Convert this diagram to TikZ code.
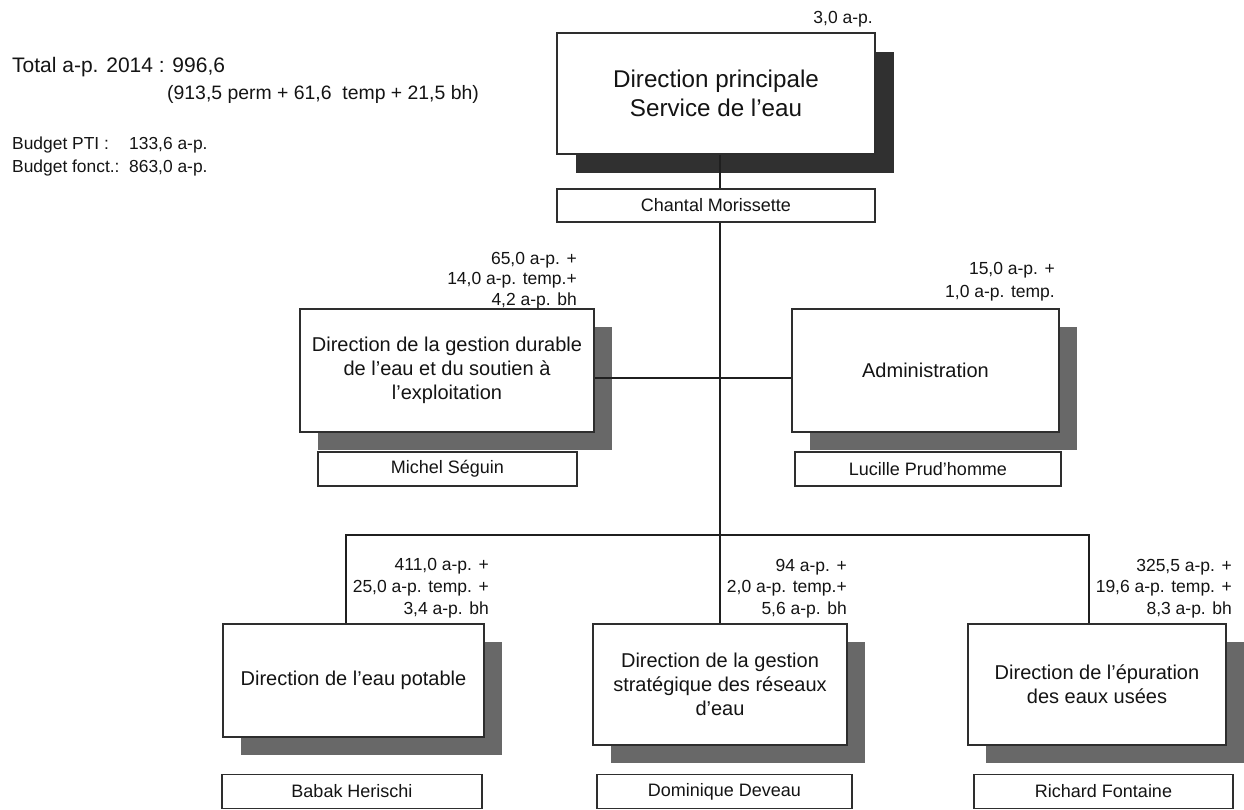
\documentclass[tikz,border=0pt]{standalone}
\usepackage{fontspec}
\setmainfont{Liberation Sans}
\usetikzlibrary{shadows,calc}
\definecolor{txt}{HTML}{141414}
\definecolor{bord}{HTML}{2E2E2E}
\definecolor{shdark}{HTML}{303030}
\definecolor{shmid}{HTML}{686868}
\begin{document}
\begin{tikzpicture}[x=1pt,y=-1pt,
  box/.style={draw=bord, line width=1.3pt, fill=white, align=center, inner sep=0pt,
    text=txt, font=\fontsize{20}{23.8}\selectfont},
  shadowmid/.style={drop shadow={shadow xshift=18pt, shadow yshift=-18pt, fill=shmid, opacity=1}},
  shadowdark/.style={drop shadow={shadow xshift=19pt, shadow yshift=-19pt, fill=shdark, opacity=1}},
  namebox/.style={draw=bord, line width=1.3pt, fill=white, inner sep=0pt, text=txt,
    font=\fontsize{18}{21}\selectfont},
  lbl/.style={align=right, anchor=north east, inner sep=0pt, text=txt},
  info/.style={anchor=base west, inner sep=0pt, text=txt},
  link/.style={draw=black!88, line width=1.3pt}]
\useasboundingbox (0,0) rectangle (1244,810);

% header texts
\node[info, font=\fontsize{21}{25}\selectfont] (total) at (12,72.6) {Total a-p. 2014 : 996,6};
\node[info, font=\fontsize{19.4}{23}\selectfont] (detail) at (167,100) {(913,5 perm + 61,6\ \ temp + 21,5 bh)};
\node[info, font=\fontsize{17.4}{21}\selectfont] (pti) at (12,149.3) {\makebox[117pt][l]{Budget PTI :}133,6 a-p.};
\node[info, font=\fontsize{17.4}{21}\selectfont] (fonct) at (12,172.3) {\makebox[117pt][l]{Budget fonct.:}863,0 a-p.};

% boxes
\node[box, shadowdark, minimum width=318pt, minimum height=121pt,
  font=\fontsize{24.2}{29}\selectfont] (top) at (716,93.5) {Direction principale\\Service de l’eau};
\node[namebox, minimum width=318pt, minimum height=33pt] (chantal) at (716,205.5) {Chantal Morissette};

\node[box, shadowmid, minimum width=294pt, minimum height=123pt] (gest) at (447,370.5)
  {Direction de la gestion durable\\de l’eau et du soutien à\\l’exploitation};
\node[namebox, minimum width=259pt, minimum height=34pt] (michel) at (447.5,469) {Michel Séguin};

\node[box, shadowmid, minimum width=267pt, minimum height=123pt] (admin) at (925.5,370.5) {Administration};
\node[namebox, minimum width=266pt, minimum height=34pt] (lucille) at (928,469) {Lucille Prud’homme};

\node[box, shadowmid, minimum width=261pt, minimum height=113pt] (potable) at (353.5,680.5) {Direction de l’eau potable};
\node[namebox, minimum width=260pt, minimum height=34pt] (babak) at (352,791.5) {Babak Herischi};

\node[box, shadowmid, minimum width=254pt, minimum height=121pt] (strat) at (720,684.5)
  {Direction de la gestion\\stratégique des réseaux\\d’eau};
\node[namebox, minimum width=255pt, minimum height=34pt] (dominique) at (724.5,791.5) {Dominique Deveau};

\node[box, shadowmid, minimum width=258pt, minimum height=121pt] (epur) at (1097,684.5)
  {Direction de l’épuration\\des eaux usées};
\node[namebox, minimum width=259pt, minimum height=34pt] (richard) at (1103.5,791.5) {Richard Fontaine};

% staff labels
\node[lbl, font=\fontsize{17.5}{21}\selectfont] (ltop) at (873,10.7) {3,0 a-p.};
\node[lbl, font=\fontsize{17.5}{20.5}\selectfont] (lgest) at (577,251.7) {65,0 a-p. +\\14,0 a-p. temp.+\\4,2 a-p. bh};
\node[lbl, font=\fontsize{17.5}{23.5}\selectfont] (ladmin) at (1055,261.7) {15,0 a-p. +\\1,0 a-p. temp.};
\node[lbl, font=\fontsize{17.5}{22}\selectfont] (lpot) at (489,557.7) {411,0 a-p. +\\25,0 a-p. temp. +\\3,4 a-p. bh};
\node[lbl, font=\fontsize{17.5}{21.5}\selectfont] (lstrat) at (847,558.7) {94 a-p. +\\2,0 a-p. temp.+\\5,6 a-p. bh};
\node[lbl, font=\fontsize{17.5}{21.5}\selectfont] (lepur) at (1232,558.7) {325,5 a-p. +\\19,6 a-p. temp. +\\8,3 a-p. bh};

% connectors
\coordinate (hb) at (720,378);
\coordinate (lbL) at (346,535);
\coordinate (lbR) at (1089,535);
\draw[link] (top.south -| strat.north) -- (chantal.north -| strat.north);
\draw[link] (chantal.south -| strat.north) -- (strat.north);
\draw[link] (gest.east |- hb) -- (admin.west |- hb);
\draw[link] (potable.north -| lbL) -- (lbL) -- (lbR) -- (lbR |- epur.north);
\end{tikzpicture}
\end{document}
